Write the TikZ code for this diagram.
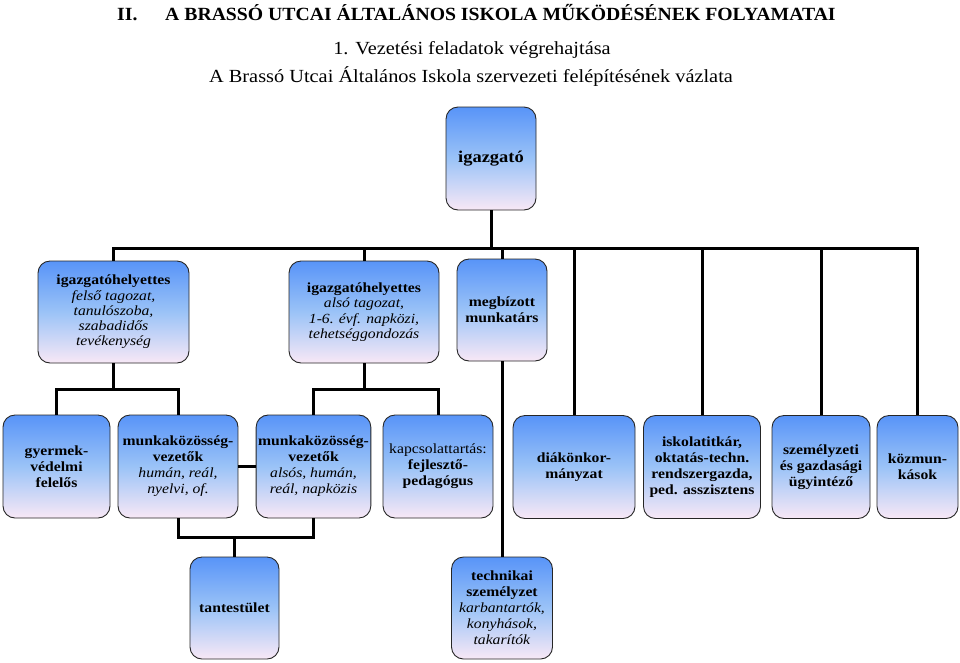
\documentclass[tikz,border=0pt]{standalone}
\usepackage{fontspec}
\setmainfont{Liberation Serif}
\newfontfamily\boxfont[FakeStretch=1.12]{Liberation Serif}
\newfontfamily\headfont[FakeStretch=1.1]{Liberation Serif}
\newfontfamily\titlefont[FakeStretch=1.06]{Liberation Serif}
\usetikzlibrary{calc}

\definecolor{boxtop}{RGB}{88,148,248}
\definecolor{boxmid}{RGB}{155,195,247}
\definecolor{boxbot}{RGB}{248,232,246}

\tikzset{
  orgbox/.style={draw=black!85, line width=0.9pt, rounded corners=12pt,
    top color=boxtop, bottom color=boxbot, middle color=boxmid,
    align=center, inner sep=2pt,
    font=\boxfont\fontsize{14}{16}\selectfont},
  vastag/.style={font=\boxfont\fontsize{14}{16}\selectfont\bfseries},
  conn/.style={line width=3pt, black}
}

\begin{document}
\begin{tikzpicture}[x=1pt, y=-1pt]
  \useasboundingbox (0,0) rectangle (960,662);
  % cimsorok
  \node[anchor=base west, inner sep=0pt] (rom) at (117,20.5) {\titlefont\fontsize{18.6}{20}\selectfont\bfseries II.};
  \node[anchor=base west, inner sep=0pt] (cim) at (165,20.5) {\titlefont\fontsize{18.6}{20}\selectfont\bfseries A BRASSÓ UTCAI ÁLTALÁNOS ISKOLA MŰKÖDÉSÉNEK FOLYAMATAI};
  \node (alcim1) at (472,50) {\headfont\fontsize{18.5}{20}\selectfont 1. Vezetési feladatok végrehajtása};
  \node (alcim2) at (471,77) {\headfont\fontsize{18.5}{20}\selectfont A Brassó Utcai Általános Iskola szervezeti felépítésének vázlata};

  % dobozok
  \node[orgbox, minimum width=90pt, minimum height=103pt] (ig) at (491,158.5)
    {\fontsize{16.5}{18}\selectfont\bfseries igazgató};
  \node[orgbox, minimum width=151pt, minimum height=102pt,
    font=\boxfont\fontsize{14}{15.3}\selectfont] (h1) at (113.5,312)
    {\textbf{igazgatóhelyettes}\\ \textit{felső tagozat,}\\ \textit{tanulószoba,}\\ \textit{szabadidős}\\ \textit{tevékenység}};
  \node[orgbox, minimum width=150pt, minimum height=102pt,
    font=\boxfont\fontsize{14}{15.3}\selectfont] (h2) at (364,312)
    {\textbf{igazgatóhelyettes}\\ \textit{alsó tagozat,}\\ \textit{1-6. évf. napközi,}\\ \textit{tehetséggondozás}};
  \node[orgbox, vastag, minimum width=90pt, minimum height=102pt] (mb) at (502,310)
    {megbízott\\ munkatárs};

  \node[orgbox, vastag, minimum width=107pt, minimum height=103pt] (gy) at (56.5,466.5)
    {gyermek-\\ védelmi\\ felelős};
  \node[orgbox, minimum width=120pt, minimum height=103pt] (mk1) at (178,466.5)
    {\textbf{munkaközösség-}\\ \textbf{vezetők}\\ \textit{humán, reál,}\\ \textit{nyelvi, of.}};
  \node[orgbox, minimum width=113pt, minimum height=103pt] (mk2) at (313.5,466.5)
    {\textbf{munkaközösség-}\\ \textbf{vezetők}\\ \textit{alsós, humán,}\\ \textit{reál, napközis}};
  \node[orgbox, minimum width=110pt, minimum height=103pt] (kp) at (438,466.5)
    {kapcsolattartás:\\ \textbf{fejlesztő-}\\ \textbf{pedagógus}};
  \node[orgbox, vastag, minimum width=122pt, minimum height=103pt] (dk) at (574,467)
    {diákönkor-\\ mányzat};
  \node[orgbox, vastag, minimum width=117pt, minimum height=103pt] (isk) at (702,467)
    {iskolatitkár,\\ oktatás-techn.\\ rendszergazda,\\ ped. asszisztens};
  \node[orgbox, vastag, minimum width=98pt, minimum height=103pt] (szem) at (821,467)
    {személyzeti\\ és gazdasági\\ ügyintéző};
  \node[orgbox, vastag, minimum width=81pt, minimum height=103pt] (kozm) at (917.5,467)
    {közmun-\\ kások};

  \node[orgbox, vastag, minimum width=89pt, minimum height=102pt] (tant) at (234.5,608)
    {tantestület};
  \node[orgbox, minimum width=101pt, minimum height=102pt] (tech) at (502,608)
    {\textbf{technikai}\\ \textbf{személyzet}\\ \textit{karbantartók,}\\ \textit{konyhások,}\\ \textit{takarítók}};

  % vonalak
  \coordinate (sor1) at (0,248);
  \coordinate (sor2) at (0,389);
  \coordinate (sor3) at (0,537);
  \foreach \n in {h1,h2,mb,dk,isk,szem,kozm}
    \draw[conn] (ig) -- (ig |- sor1) -| (\n);
  \draw[conn] (h1) -- (h1 |- sor2) -| (gy);
  \draw[conn] (h1 |- sor2) -| (mk1);
  \draw[conn] (h2) -- (h2 |- sor2) -| (mk2);
  \draw[conn] (h2 |- sor2) -| (kp);
  \draw[conn] (mb) -- (tech);
  \draw[conn] (mk1) -- (mk2);
  \draw[conn] (mk1) -- (mk1 |- sor3) -| (mk2);
  \draw[conn] (tant |- sor3) -- (tant);
\end{tikzpicture}
\end{document}
